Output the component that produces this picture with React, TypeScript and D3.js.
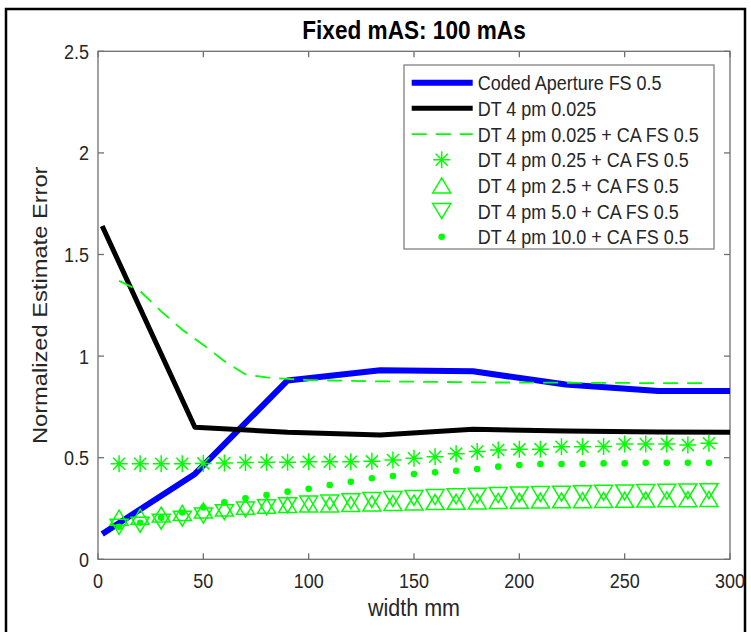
import React from "react";
import * as d3 from "d3";

const W = 751, H = 632;
const M = { left: 98, right: 730, top: 51.3, bottom: 559.3 };

const title = "Fixed mAS: 100 mAs";
const xLabel = "width mm";
const yLabel = "Normalized Estimate Error";
const xTicks = [0, 50, 100, 150, 200, 250, 300];
const yTicks = [0, 0.5, 1, 1.5, 2, 2.5];
const yTickLabels = ["0", "0.5", "1", "1.5", "2", "2.5"];

const seriesNames = [
  "Coded Aperture FS 0.5",
  "DT 4 pm 0.025",
  "DT 4 pm 0.025 + CA FS 0.5",
  "DT 4 pm 0.25 + CA FS 0.5",
  "DT 4 pm 2.5 + CA FS 0.5",
  "DT 4 pm 5.0 + CA FS 0.5",
  "DT 4 pm 10.0 + CA FS 0.5",
];

const coarseX = [2, 46, 90, 134, 178, 222, 266, 300];
const codedAperture = [0.125, 0.42, 0.88, 0.93, 0.925, 0.86, 0.828, 0.828];
const dt0025 = [1.64, 0.65, 0.625, 0.612, 0.64, 0.631, 0.627, 0.625];

const fineX = [10, 20, 30, 40, 50, 60, 70, 80, 90, 100, 110, 120, 130, 140, 150, 160, 170, 180, 190, 200, 210, 220, 230, 240, 250, 260, 270, 280, 290];
const dt0025CA = [1.37, 1.32, 1.22, 1.13, 1.055, 0.975, 0.91, 0.895, 0.888, 0.882, 0.88, 0.878, 0.876, 0.875, 0.874, 0.873, 0.872, 0.871, 0.87, 0.87, 0.869, 0.869, 0.868, 0.868, 0.868, 0.867, 0.867, 0.867, 0.867];
const dt025CA = [0.47, 0.47, 0.47, 0.47, 0.472, 0.474, 0.476, 0.478, 0.478, 0.48, 0.48, 0.48, 0.482, 0.489, 0.497, 0.505, 0.52, 0.53, 0.538, 0.541, 0.542, 0.554, 0.554, 0.555, 0.567, 0.567, 0.567, 0.562, 0.571];
const dt25CA = [0.205, 0.21, 0.22, 0.228, 0.24, 0.25, 0.258, 0.263, 0.267, 0.27, 0.27, 0.272, 0.275, 0.277, 0.28, 0.282, 0.283, 0.285, 0.287, 0.288, 0.289, 0.29, 0.291, 0.292, 0.293, 0.294, 0.295, 0.296, 0.297];
const dt50CA = [0.16, 0.17, 0.185, 0.2, 0.215, 0.232, 0.245, 0.256, 0.266, 0.274, 0.28, 0.286, 0.292, 0.297, 0.302, 0.306, 0.31, 0.313, 0.316, 0.319, 0.321, 0.323, 0.325, 0.327, 0.329, 0.331, 0.332, 0.334, 0.335];
const dt100CA = [0.16, 0.18, 0.205, 0.23, 0.255, 0.28, 0.3, 0.316, 0.333, 0.347, 0.366, 0.382, 0.399, 0.41, 0.42, 0.428, 0.436, 0.444, 0.456, 0.464, 0.469, 0.469, 0.469, 0.472, 0.472, 0.475, 0.475, 0.475, 0.475];

const GREEN = "#00ff00";
const FONT = "'Liberation Sans', Arial, sans-serif";
const TXT = "#262626";
const AX = "#707070";
const VS = 1.15; // vertical stretch of text seen in the reference

const triW = 18, triH = 15;
const upPath = `M0,${-triH / 2}L${triW / 2},${triH / 2}L${-triW / 2},${triH / 2}Z`;
const downPath = `M0,${triH / 2}L${triW / 2},${-triH / 2}L${-triW / 2},${-triH / 2}Z`;
const sr = 8.5, sd = sr * 0.7071;
const starPath = `M0,${-sr}V${sr}M${-sr},0H${sr}M${-sd},${-sd}L${sd},${sd}M${-sd},${sd}L${sd},${-sd}`;

function T(props: { x: number; y: number; size: number; anchor?: string; weight?: string; fill?: string; children: React.ReactNode }) {
  return (
    <text
      transform={`translate(${props.x},${props.y}) scale(1,${VS})`}
      textAnchor={props.anchor || "start"}
      fontSize={props.size}
      fontWeight={props.weight || "normal"}
      fill={props.fill || TXT}
    >
      {props.children}
    </text>
  );
}

export default function App() {
  const x = d3.scaleLinear().domain([0, 300]).range([M.left, M.right]);
  const y = d3.scaleLinear().domain([0, 2.5]).range([M.bottom, M.top]);
  const line = d3.line<[number, number]>().x((d) => x(d[0])).y((d) => y(d[1]));
  const zip = (xs: number[], ys: number[]) => xs.map((v, i) => [v, ys[i]] as [number, number]);

  const lgX = 404, lgY = 65, lgW = 310, lgH = 184;
  const rowY = (i: number) => 82.7 + i * 25.67;
  const sx0 = 411.7, sx1 = 472.7, mx = 441.7, tx = 477.7;

  return (
    <svg width={W} height={H} style={{ position: "absolute", left: 0, top: 0, background: "#fff" }} fontFamily={FONT}>
      <rect x={0} y={0} width={W} height={H} fill="#fff" />
      <rect x={6} y={9} width={739} height={700} fill="none" stroke="#000" strokeWidth={2.5} />
      <rect x={M.left} y={M.top} width={M.right - M.left} height={M.bottom - M.top} fill="#fff" stroke={AX} strokeWidth={1.3} />
      {xTicks.map((t) => (
        <g key={"xt" + t}>
          <line x1={x(t)} x2={x(t)} y1={M.bottom} y2={M.bottom - 6} stroke={AX} strokeWidth={1.3} />
          <line x1={x(t)} x2={x(t)} y1={M.top} y2={M.top + 6} stroke={AX} strokeWidth={1.3} />
          <T x={x(t)} y={587.5} size={18} anchor="middle">{t}</T>
        </g>
      ))}
      {yTicks.map((t, i) => (
        <g key={"yt" + t}>
          <line x1={M.left} x2={M.left + 6} y1={y(t)} y2={y(t)} stroke={AX} strokeWidth={1.3} />
          <line x1={M.right} x2={M.right - 6} y1={y(t)} y2={y(t)} stroke={AX} strokeWidth={1.3} />
          <T x={89} y={y(t) + 7.5} size={18} anchor="end">{yTickLabels[i]}</T>
        </g>
      ))}
      <T x={(M.left + M.right) / 2} y={39} size={22.6} anchor="middle" weight="bold" fill="#000">{title}</T>
      <T x={(M.left + M.right) / 2} y={616} size={21.5} anchor="middle">{xLabel}</T>
      <g transform={`translate(47,${(M.top + M.bottom) / 2}) scale(1,${VS})`}>
        <text transform="rotate(-90)" textAnchor="middle" fontSize={20.6} fill={TXT}>{yLabel}</text>
      </g>

      <path d={line(zip(coarseX, codedAperture)) || ""} fill="none" stroke="#0000ff" strokeWidth={6} strokeLinejoin="round" />
      <path d={line(zip(coarseX, dt0025)) || ""} fill="none" stroke="#000" strokeWidth={5} strokeLinejoin="round" />
      <path d={line(zip(fineX, dt0025CA)) || ""} fill="none" stroke={GREEN} strokeWidth={1.8} strokeDasharray="15,9" />
      {fineX.map((v, i) => (
        <path key={"s" + i} d={starPath} transform={`translate(${x(v)},${y(dt025CA[i])})`} stroke={GREEN} strokeWidth={1.5} fill="none" />
      ))}
      {fineX.map((v, i) => (
        <path key={"u" + i} d={upPath} transform={`translate(${x(v)},${y(dt25CA[i])})`} stroke={GREEN} strokeWidth={1.5} fill="none" />
      ))}
      {fineX.map((v, i) => (
        <path key={"d" + i} d={downPath} transform={`translate(${x(v)},${y(dt50CA[i])})`} stroke={GREEN} strokeWidth={1.5} fill="none" />
      ))}
      {fineX.map((v, i) => (
        <circle key={"c" + i} cx={x(v)} cy={y(dt100CA[i])} r={3.3} fill={GREEN} />
      ))}

      <rect x={lgX} y={lgY} width={lgW} height={lgH} fill="#fff" stroke="#808080" strokeWidth={1.3} />
      <line x1={sx0} x2={sx1} y1={rowY(0)} y2={rowY(0)} stroke="#0000ff" strokeWidth={6} />
      <line x1={sx0} x2={sx1} y1={rowY(1)} y2={rowY(1)} stroke="#000" strokeWidth={5} />
      <line x1={sx0} x2={sx1} y1={rowY(2)} y2={rowY(2)} stroke={GREEN} strokeWidth={1.8} strokeDasharray="15,9" />
      <path d={starPath} transform={`translate(${mx},${rowY(3)})`} stroke={GREEN} strokeWidth={1.5} fill="none" />
      <path d={upPath} transform={`translate(${mx},${rowY(4)})`} stroke={GREEN} strokeWidth={1.5} fill="none" />
      <path d={downPath} transform={`translate(${mx},${rowY(5)})`} stroke={GREEN} strokeWidth={1.5} fill="none" />
      <circle cx={mx} cy={rowY(6)} r={3.3} fill={GREEN} />
      {seriesNames.map((n, i) => (
        <T key={n} x={tx} y={rowY(i) + 7.5} size={18}>{n}</T>
      ))}
    </svg>
  );
}
